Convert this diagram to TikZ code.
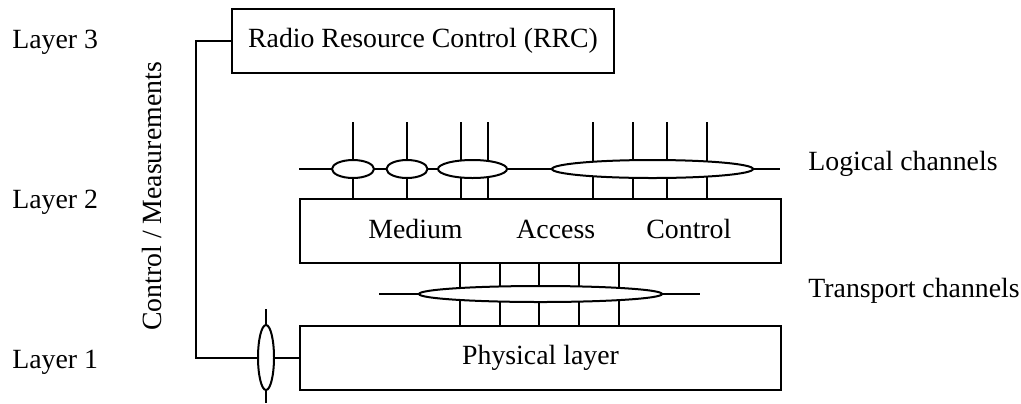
\documentclass[tikz,border=0pt]{standalone}
\usepackage{fontspec}
\setmainfont{Liberation Serif}
\usetikzlibrary{shapes.geometric}
\def\px{0.5pt}
\tikzset{
  ln/.style={line width=1pt, line cap=butt},
  box/.style={draw, line width=1pt, rectangle, inner sep=0pt, fill=white},
  chan/.style={draw, line width=1pt, ellipse, inner sep=0pt, fill=white},
  lbl/.style={inner sep=0pt, anchor=base west, font=\fontsize{13.9}{16}\selectfont},
}
\begin{document}
\begin{tikzpicture}[x=0.5pt, y=-0.5pt, font=\fontsize{13.9}{16}\selectfont]
\useasboundingbox (0,0) rectangle (1021,403);

% boxes
\node[box, minimum width=382*\px, minimum height=64*\px] (rrc) at (423,41) {Radio Resource Control (RRC)};
\node[box, minimum width=481*\px, minimum height=64*\px] (mac) at (540.5,231) {};
\node[box, minimum width=481*\px, minimum height=64*\px] (phy) at (540.5,358) {Physical layer};

% MAC text
\node[lbl] (tmed) at (368,238) {Medium};
\node[lbl] (tacc) at (516,238) {Access};
\node[lbl] (tctl) at (646,238) {Control};

% layer labels
\node[lbl] (l3) at (12,48) {Layer 3};
\node[lbl] (l2) at (12,208) {Layer 2};
\node[lbl] (l1) at (12,368) {Layer 1};
\node[inner sep=0pt, anchor=base, rotate=90] (cm) at (161,196.5) {Control / Measurements};
\node[lbl] (lc) at (808,170) {Logical channels};
\node[lbl] (tc) at (808,297) {Transport channels};

% control / measurement connector
\draw[ln] (rrc.west) -| (196,200) |- (phy.west);
\coordinate (cmtop) at (266,309);
\coordinate (cmbot) at (266,403);
\draw[ln] (cmtop) -- (cmbot);

% logical channels
\coordinate (lcl) at (299,169);
\coordinate (lcr) at (780,169);
\draw[ln] (lcl) -- (lcr);
\foreach \x in {353,407,461,488,593,633,667,707}
  \draw[ln] (\x,122) -- (\x,0 |- mac.north);

% transport channels
\coordinate (tcl) at (379,294);
\coordinate (tcr) at (700,294);
\draw[ln] (tcl) -- (tcr);
\foreach \x in {460,500,539,579,619}
  \draw[ln] (\x,0 |- mac.south) -- (\x,0 |- phy.north);

% ellipses
\node[chan, minimum width=42*\px, minimum height=18*\px] (e1) at (353,169) {};
\node[chan, minimum width=41*\px, minimum height=18*\px] (e2) at (407,169) {};
\node[chan, minimum width=69*\px, minimum height=18*\px] (e3) at (472.5,169) {};
\node[chan, minimum width=201*\px, minimum height=18*\px] (e4) at (652.5,169) {};
\node[chan, minimum width=243*\px, minimum height=16*\px] (et) at (540.5,294) {};
\node[chan, minimum width=16*\px, minimum height=65*\px] (ec) at (266,357.5) {};
\end{tikzpicture}
\end{document}
